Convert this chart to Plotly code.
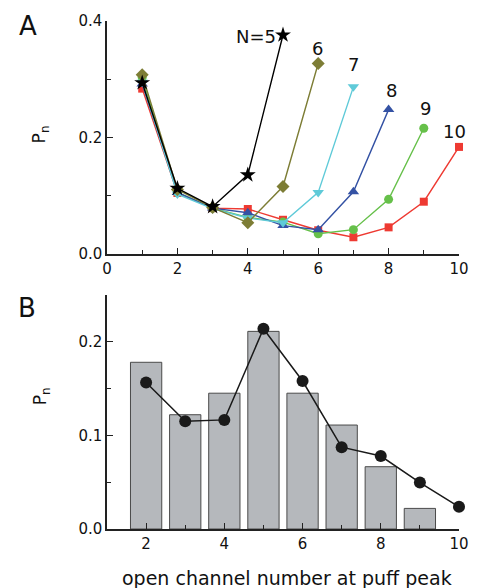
import plotly.graph_objects as go

# ---------------- data ----------------
n_axis = [1, 2, 3, 4, 5, 6, 7, 8, 9, 10]
P_N5 = [0.294, 0.113, 0.0815, 0.136, 0.376]
P_N6 = [0.308, 0.111, 0.080, 0.054, 0.116, 0.327]
P_N7 = [0.295, 0.103, 0.078, 0.062, 0.054, 0.106, 0.287]
P_N8 = [0.292, 0.106, 0.079, 0.071, 0.049, 0.042, 0.107, 0.248]
P_N9 = [0.303, 0.106, 0.079, 0.063, 0.055, 0.035, 0.042, 0.094, 0.216]
P_N10 = [0.284, 0.105, 0.079, 0.0775, 0.059, 0.041, 0.029, 0.046, 0.090, 0.184]
series_names = ["N=5", "6", "7", "8", "9", "10"]

open_n = [2, 3, 4, 5, 6, 7, 8, 9, 10]
exp_P = [0.178, 0.122, 0.145, 0.211, 0.145, 0.111, 0.0665, 0.022]
model_P = [0.1565, 0.115, 0.1165, 0.2138, 0.158, 0.0874, 0.0779, 0.0496, 0.0237]

FONT = "DejaVu Sans"
AX = "#222222"

W, H = 481, 588
L_PAGE, R_PAGE, T_PAGE, B_PAGE = 107, 465.7, 17, 529

fig = go.Figure()

series = [
    (P_N10, "#ee3a32", "square", 8),
    (P_N9, "#66c04a", "circle", 9),
    (P_N8, "#3452a4", "triangle-up", 10),
    (P_N7, "#5fcad8", "triangle-down", 10),
    (P_N6, "#7d7d35", "diamond", 10),
    (P_N5, "#000000", "star", 12),
]
for vals, col, sym, sz in series:
    fig.add_trace(go.Scatter(
        x=n_axis[:len(vals)], y=vals, mode="lines+markers",
        line=dict(color=col, width=1.4),
        marker=dict(symbol=sym, color=col, size=sz, line=dict(width=0)),
        xaxis="x", yaxis="y", showlegend=False, cliponaxis=False))

fig.add_trace(go.Bar(
    x=open_n[:len(exp_P)], y=exp_P, width=0.8,
    marker=dict(color="#b5b8bc", line=dict(color="#4a4a4a", width=1)),
    xaxis="x2", yaxis="y2", showlegend=False))
fig.add_trace(go.Scatter(
    x=open_n, y=model_P, mode="lines+markers",
    line=dict(color="#1a1a1a", width=1.5),
    marker=dict(symbol="circle", color="#1a1a1a", size=12),
    xaxis="x2", yaxis="y2", showlegend=False, cliponaxis=False))

common = dict(showgrid=False, zeroline=False, showline=True, linecolor=AX,
              linewidth=1.5, ticks="inside", ticklen=6, tickwidth=1.3,
              tickcolor=AX, tickfont=dict(family=FONT, size=15, color="#111"),
              mirror=False)

ml = L_PAGE
mt = T_PAGE
mr = W - R_PAGE
mb = H - B_PAGE
pw = W - ml - mr
ph = H - mt - mb


def px(xp):
    return (xp - L_PAGE) / pw


def py(yp):
    return (B_PAGE - yp) / ph


fig.update_layout(
    width=W, height=H,
    margin=dict(l=ml, r=mr, t=mt, b=mb, pad=0),
    paper_bgcolor="white", plot_bgcolor="white",
    font=dict(family=FONT, color="#111"),
    xaxis=dict(domain=[0, 1], range=[0, 10], dtick=2, tick0=0, anchor="y",
               minor=dict(ticks="inside", dtick=1, tick0=0, ticklen=4,
                          tickcolor=AX, tickwidth=1.2), **common),
    yaxis=dict(domain=[py(252), 1], range=[0, 0.4], dtick=0.2, tick0=0,
               tickformat=".1f", anchor="x",
               minor=dict(ticks="inside", dtick=0.1, tick0=0, ticklen=4,
                          tickcolor=AX, tickwidth=1.2), **common),
    xaxis2=dict(domain=[0, 1], range=[1, 10], dtick=2, tick0=0, anchor="y2",
                minor=dict(ticks="inside", dtick=1, tick0=0, ticklen=4,
                           tickcolor=AX, tickwidth=1.2), **common),
    yaxis2=dict(domain=[0, py(293)], range=[0, 0.25], dtick=0.1, tick0=0,
                tickformat=".1f", anchor="x2",
                minor=dict(ticks="inside", dtick=0.05, tick0=0, ticklen=4,
                           tickcolor=AX, tickwidth=1.2), **common),
)

# series labels
label_pos = [(4.87, 0.374, "right"), (5.97, 0.352, "center"), (7.0, 0.325, "center"),
             (8.08, 0.281, "center"), (9.06, 0.250, "center"), (9.87, 0.211, "center")]
for name, (lx, ly, xa) in zip(series_names, label_pos):
    fig.add_annotation(x=lx, y=ly, xref="x", yref="y", text=name, showarrow=False,
                       xanchor=xa, yanchor="middle",
                       font=dict(family=FONT, size=18, color="#111"))

fig.add_annotation(x=px(26), y=py(22), xref="paper", yref="paper", text="A",
                   showarrow=False, xanchor="center", yanchor="middle",
                   font=dict(family=FONT, size=26, color="#111"))
fig.add_annotation(x=px(25), y=py(306), xref="paper", yref="paper", text="B",
                   showarrow=False, xanchor="center", yanchor="middle",
                   font=dict(family=FONT, size=26, color="#111"))
fig.add_annotation(x=px(39), y=py(131), xref="paper", yref="paper", text="P<sub>n</sub>",
                   textangle=-90, showarrow=False, xanchor="center", yanchor="middle",
                   font=dict(family=FONT, size=17, color="#111"))
fig.add_annotation(x=px(40), y=py(395), xref="paper", yref="paper", text="P<sub>n</sub>",
                   textangle=-90, showarrow=False, xanchor="center", yanchor="middle",
                   font=dict(family=FONT, size=17, color="#111"))
fig.add_annotation(x=px(290), y=py(578), xref="paper", yref="paper",
                   text="open channel number at puff peak",
                   showarrow=False, xanchor="center", yanchor="middle",
                   font=dict(family=FONT, size=19, color="#111"))

fig.write_html("out.html", config={"displayModeBar": False},
               post_script="document.body.style.margin='0';document.body.style.padding='0';")
